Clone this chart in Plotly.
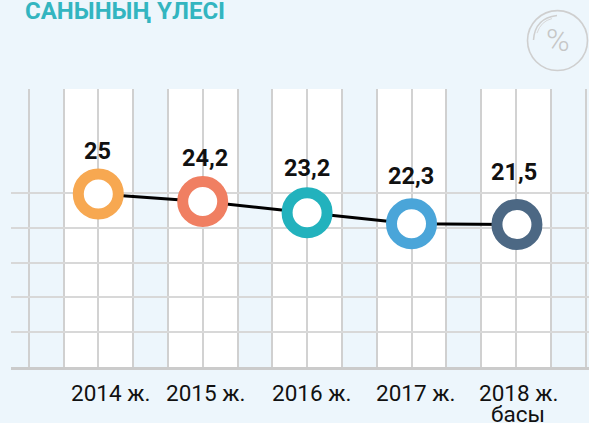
import plotly.graph_objects as go

W, H = 589, 423
L, R, T, B = 11, 589, 89, 367.3

title_text = "САНЫНЫҢ ҮЛЕСІ"
categories = ["2014 ж.", "2015 ж.", "2016 ж.", "2017 ж.", "2018 ж."]
last_category_note = "басы"
positions = [0, 1, 2, 3, 4.01]
value_labels = ["25", "24,2", "23,2", "22,3", "21,5"]
# heights at which the points sit on the chart's unlabelled grid
plotted_levels = [24.9, 23.8, 22.2, 20.6, 20.5]
grid_levels = [5, 10, 15, 20, 25]
point_colors = ["#f7a851", "#f07f62", "#22b2bd", "#4aa5d9", "#4c6884"]
band_centers = [0, 1, 2, 3, 4]

X0, STEP = 98.3, 104.4
KY = 34.8 / 5
x_range = [(L - X0) / STEP, (R - X0) / STEP]
y_range = [0, (B - T) / KY]


def px(x):
    return (x - L) / (R - L)


def py(y):
    return (B - y) / (B - T)


fig = go.Figure()
fig.add_trace(go.Scatter(
    x=positions, y=plotted_levels, mode="lines+markers", cliponaxis=False,
    line=dict(color="#000000", width=3),
    marker=dict(size=40, color="#ffffff", opacity=1,
                line=dict(color=point_colors, width=11)),
    hoverinfo="skip",
))

shapes = [
    dict(type="rect", layer="below", xref="x", yref="paper",
         x0=c - 1 / 3, x1=c + 1 / 3, y0=0, y1=1,
         fillcolor="#ffffff", line_width=0)
    for c in band_centers
]
# percent icon
shapes.append(dict(type="circle", xref="paper", yref="paper",
                   x0=px(527.5), x1=px(587.5), y0=py(70.5), y1=py(10.5),
                   line=dict(color="#cfcfcf", width=1.6), fillcolor="rgba(0,0,0,0)"))
shapes.append(dict(type="path", xref="paper", yref="paper",
                   path=f"M {px(533.5)} {py(40)} Q {px(535)} {py(18)} {px(557)} {py(15.5)}",
                   line=dict(color="#cfcfcf", width=1.5)))
shapes.append(dict(type="path", xref="paper", yref="paper",
                   path=f"M {px(537)} {py(33)} Q {px(541)} {py(21)} {px(552)} {py(18.5)}",
                   line=dict(color="#d8d8d8", width=1)))

annotations = []
label_px = [(97, 151), (205, 158), (307, 168), (411, 176), (514, 172)]
for t, (x, y) in zip(value_labels, label_px):
    annotations.append(dict(text=f"<b>{t}</b>", xref="paper", yref="paper",
                            x=px(x), y=py(y), xanchor="center", yanchor="middle",
                            showarrow=False, font=dict(family="Roboto", size=23.5, color="#111111")))
cat_px = [110.5, 205.5, 311.5, 415, 518]
for t, x in zip(categories, cat_px):
    annotations.append(dict(text=t, xref="paper", yref="paper",
                            x=px(x), y=py(393), xanchor="center", yanchor="middle",
                            showarrow=False, align="center",
                            font=dict(family="Roboto", size=22.5, color="#111111")))
annotations.append(dict(text=last_category_note, xref="paper", yref="paper",
                        x=px(518), y=py(414), xanchor="center", yanchor="middle",
                        showarrow=False, font=dict(family="Roboto", size=22.5, color="#111111")))
annotations.append(dict(text="%", xref="paper", yref="paper", x=px(558), y=py(40),
                        xanchor="center", yanchor="middle", showarrow=False,
                        font=dict(family="Roboto", size=32, weight=300, color="#c6c6c6")))

fig.update_layout(
    width=W, height=H, autosize=False,
    margin=dict(l=L, r=W - R, t=T, b=H - B, pad=0),
    paper_bgcolor="#edf6fc", plot_bgcolor="#edf6fc",
    showlegend=False,
    title=dict(text=f"<b>{title_text}</b>", xref="container", yref="container",
               x=25 / W, y=1 - 10.5 / H, xanchor="left", yanchor="middle",
               font=dict(family="Roboto", size=24, color="#33b5c0")),
    shapes=shapes, annotations=annotations,
    xaxis=dict(range=x_range, tickmode="array", tickvals=band_centers, ticktext=[""] * 5,
               showgrid=True, gridcolor="#d2d2d2", gridwidth=1.5, zeroline=False,
               showline=True, linecolor="#cbcbcb", linewidth=3, ticks="",
               minor=dict(tick0=0, dtick=1 / 3, showgrid=True, gridcolor="#d0d0d0", gridwidth=1.5)),
    yaxis=dict(range=y_range, tickmode="array", tickvals=grid_levels, showticklabels=False,
               showgrid=True, gridcolor="#d8d8d8", gridwidth=1.5, zeroline=False,
               showline=False, ticks=""),
)

fig.write_html("out.html", config=dict(displayModeBar=False),
               post_script="document.body.style.margin='0';document.documentElement.style.overflow='hidden';")
